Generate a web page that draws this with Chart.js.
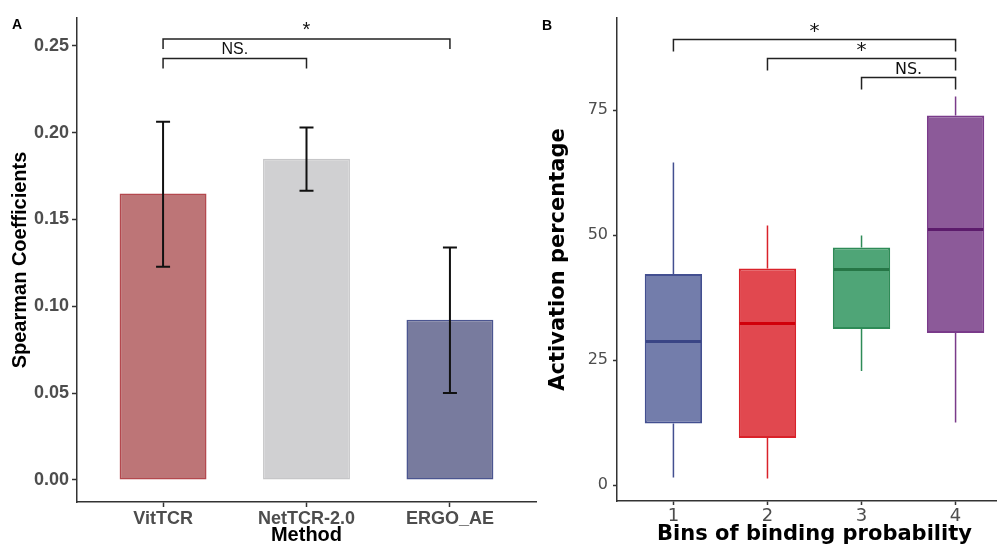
<!DOCTYPE html>
<html>
<head>
<meta charset="utf-8">
<script src="https://cdn.jsdelivr.net/npm/chart.js@4.4.1/dist/chart.umd.min.js"></script>
<style>
    html, body { margin: 0; padding: 0; background: #fff; }
    #wrap { position: relative; width: 997px; height: 545px; overflow: hidden; }
    .panel { position: absolute; top: 0; height: 545px; }
    #panelA { left: 0; width: 540px; }
    #panelB { left: 520px; width: 500px; }
    .tag { position: absolute; font: bold 14px "Liberation Sans", Arial, sans-serif; color: #000; line-height: 14px; }
</style>
</head>
<body>
<div id="wrap">
    <div class="panel" id="panelA"><canvas id="chartA"></canvas></div>
    <div class="panel" id="panelB"><canvas id="chartB"></canvas></div>
    <div class="tag" style="left:12px; top:17px">A</div>
    <div class="tag" style="left:542px; top:18px">B</div>
</div>
<script>
/* panel A : spearman coefficients per method */
const methods = ['VitTCR', 'NetTCR-2.0', 'ERGO_AE']
const spearman = [0.165, 0.185, 0.0923]
const spearmanLow = [0.1227, 0.1665, 0.050]
const spearmanHigh = [0.2063, 0.203, 0.1339]
const spearmanTicks = [0, 0.05, 0.10, 0.15, 0.20, 0.25]
const methodPairs = [[1, 3], [1, 2]]
const methodPairLabels = ['*', 'NS.']
const methodPairLevels = [0.2539, 0.2427]

/* panel B : activation percentage per bin */
const bins = ['1', '2', '3', '4']
const boxMin = [1.5, 1.3, 22.8, 12.5]
const boxQ1 = [12.3, 9.4, 31.2, 30.4]
const boxMedian = [28.7, 32.3, 43.1, 51.1]
const boxQ3 = [42.2, 43.3, 47.5, 73.9]
const boxMax = [64.5, 51.9, 49.9, 77.7]
const activationTicks = [0, 25, 50, 75]
const binPairs = [[1, 4], [2, 4], [3, 4]]
const binPairLabels = ['*', '*', 'NS.']
const binPairLevels = [89.1, 85.3, 81.5]

const ARIAL = '"Liberation Sans", Arial, sans-serif'
const DEJAVU = '"DejaVu Sans", sans-serif'

// significance brackets, drawn in data units through the scales
const bracketPlugin = (pairs, labels, levels, drop, family) => ({
    id: 'brackets',
    afterDraw(chart) {
        const { ctx, scales: { x, y } } = chart
        ctx.save()
        ctx.strokeStyle = '#222'
        ctx.lineWidth = 1.5
        ctx.fillStyle = '#111'
        ctx.textAlign = 'center'
        ctx.textBaseline = 'alphabetic'
        pairs.forEach((p, i) => {
            const x1 = x.getPixelForValue(p[0])
            const x2 = x.getPixelForValue(p[1])
            const yy = y.getPixelForValue(levels[i])
            ctx.beginPath()
            ctx.moveTo(x1, yy + drop)
            ctx.lineTo(x1, yy)
            ctx.lineTo(x2, yy)
            ctx.lineTo(x2, yy + drop)
            ctx.stroke()
            if (labels[i] === '*') {
                ctx.font = '20px ' + family
                ctx.fillText('*', (x1 + x2) / 2, yy - 3)
            } else {
                ctx.font = '16px ' + family
                ctx.fillText(labels[i], (x1 + x2) / 2, yy - 4)
            }
        })
        ctx.restore()
    }
})

const errorBarPlugin = {
    id: 'errorBars',
    afterDatasetsDraw(chart) {
        const { ctx, scales: { x, y } } = chart
        ctx.save()
        ctx.strokeStyle = '#111'
        ctx.lineWidth = 2
        methods.forEach((m, i) => {
            const px = x.getPixelForValue(i + 1)
            const top = y.getPixelForValue(spearmanHigh[i])
            const bottom = y.getPixelForValue(spearmanLow[i])
            ctx.beginPath()
            ctx.moveTo(px, top); ctx.lineTo(px, bottom)
            ctx.moveTo(px - 7, top); ctx.lineTo(px + 7, top)
            ctx.moveTo(px - 7, bottom); ctx.lineTo(px + 7, bottom)
            ctx.stroke()
        })
        ctx.restore()
    }
}

const boxColors = ['#737dab', '#e1484f', '#4fa577', '#8c5a99']
const boxBorders = ['#434f90', '#d9222a', '#2e8b57', '#7a3b8a']
const boxMedians = ['#3a4585', '#d1000a', '#267646', '#5c1b6c']

const whiskerPlugin = {
    id: 'whiskers',
    beforeDatasetsDraw(chart) {
        const { ctx, scales: { y } } = chart
        const bars = chart.getDatasetMeta(0).data
        ctx.save()
        ctx.lineWidth = 1.5
        bins.forEach((b, i) => {
            const px = bars[i].x
            ctx.strokeStyle = boxBorders[i]
            ctx.beginPath()
            ctx.moveTo(px, y.getPixelForValue(boxMax[i])); ctx.lineTo(px, y.getPixelForValue(boxQ3[i]))
            ctx.moveTo(px, y.getPixelForValue(boxQ1[i])); ctx.lineTo(px, y.getPixelForValue(boxMin[i]))
            ctx.stroke()
        })
        ctx.restore()
    },
    afterDatasetsDraw(chart) {
        const { ctx, scales: { y } } = chart
        const bars = chart.getDatasetMeta(0).data
        ctx.save()
        ctx.lineWidth = 3
        bins.forEach((b, i) => {
            const half = bars[i].width / 2 - 1
            const py = y.getPixelForValue(boxMedian[i])
            ctx.strokeStyle = boxMedians[i]
            ctx.beginPath()
            ctx.moveTo(bars[i].x - half, py); ctx.lineTo(bars[i].x + half, py)
            ctx.stroke()
        })
        ctx.restore()
    }
}

const axisGrid = (len) => ({ drawOnChartArea: false, offset: false, tickLength: len, color: '#333', tickWidth: 1.5 })
const axisBorder = { color: '#333', width: 1.5 }

new Chart(document.getElementById('chartA'), {
    type: 'bar',
    data: {
        datasets: [{
            data: methods.map((m, i) => ({ x: i + 1, y: spearman[i] })),
            backgroundColor: ['#bd7577', '#d0d0d2', '#787b9e'],
            borderColor: ['#b4484e', '#c6c6c8', '#4b5590'],
            borderWidth: 1.5,
            borderSkipped: false,
            categoryPercentage: 1,
            barPercentage: 0.606,
        }]
    },
    options: {
        responsive: true,
        maintainAspectRatio: false,
        animation: false,
        events: [],
        layout: { padding: { top: 18, right: 4, left: 0, bottom: 0 } },
        plugins: { legend: { display: false }, tooltip: { enabled: false } },
        scales: {
            x: {
                type: 'linear',
                offset: false,
                min: 0.4,
                max: 3.6,
                afterBuildTicks: s => { s.ticks = methods.map((m, i) => ({ value: i + 1 })) },
                afterFit: s => { s.height = 43 },
                ticks: {
                    callback: v => methods[v - 1],
                    color: '#4d4d4d',
                    font: { family: ARIAL, size: 18, weight: 'bold', lineHeight: 1 },
                    padding: 3,
                    maxRotation: 0,
                },
                grid: axisGrid(5),
                border: axisBorder,
                title: {
                    display: true, text: 'Method', color: '#000',
                    font: { family: ARIAL, size: 20, weight: 'bold', lineHeight: 1 },
                    padding: { top: 0, bottom: 0 }
                }
            },
            y: {
                min: -0.0127,
                max: 0.266,
                afterBuildTicks: s => { s.ticks = spearmanTicks.map(v => ({ value: v })) },
                afterFit: s => { s.width = 77 },
                ticks: {
                    callback: v => v.toFixed(2),
                    color: '#4d4d4d',
                    font: { family: ARIAL, size: 18, weight: 'bold', lineHeight: 1 },
                    padding: 3,
                },
                grid: axisGrid(5),
                border: axisBorder,
                title: {
                    display: true, text: 'Spearman Coefficients', color: '#000',
                    font: { family: ARIAL, size: 20, weight: 'bold', lineHeight: 1 },
                    padding: { top: 10, bottom: 0 }
                }
            }
        }
    },
    plugins: [errorBarPlugin, bracketPlugin(methodPairs, methodPairLabels, methodPairLevels, 10, ARIAL)]
})

new Chart(document.getElementById('chartB'), {
    type: 'bar',
    data: {
        datasets: [{
            data: bins.map((b, i) => ({ x: i + 1, y: [boxQ1[i], boxQ3[i]] })),
            backgroundColor: boxColors,
            borderColor: boxBorders,
            borderWidth: 2,
            borderSkipped: false,
            categoryPercentage: 1,
            barPercentage: 0.61,
        }]
    },
    options: {
        responsive: true,
        maintainAspectRatio: false,
        animation: false,
        events: [],
        layout: { padding: { top: 18, right: 8, left: 0, bottom: 0 } },
        plugins: { legend: { display: false }, tooltip: { enabled: false } },
        scales: {
            x: {
                type: 'linear',
                offset: false,
                min: 0.4,
                max: 4.6,
                afterBuildTicks: s => { s.ticks = bins.map((b, i) => ({ value: i + 1 })) },
                afterFit: s => { s.height = 44 },
                ticks: {
                    callback: v => bins[v - 1],
                    color: '#4d4d4d',
                    font: { family: DEJAVU, size: 18, lineHeight: 1 },
                    padding: 2,
                    maxRotation: 0,
                },
                grid: axisGrid(4),
                border: axisBorder,
                title: {
                    display: true, text: 'Bins of binding probability', color: '#000',
                    font: { family: DEJAVU, size: 21, weight: 'bold', lineHeight: 1 },
                    padding: { top: 0, bottom: 0 }
                }
            },
            y: {
                min: -3.2,
                max: 93.4,
                afterBuildTicks: s => { s.ticks = activationTicks.map(v => ({ value: v })) },
                afterFit: s => { s.width = 97 },
                ticks: {
                    color: '#4d4d4d',
                    font: { family: DEJAVU, size: 16, lineHeight: 1 },
                    padding: 5,
                },
                grid: axisGrid(4),
                border: axisBorder,
                title: {
                    display: true, text: 'Activation percentage', color: '#000',
                    font: { family: DEJAVU, size: 21, weight: 'bold', lineHeight: 1 },
                    padding: { top: 28, bottom: 0 }
                }
            }
        }
    },
    plugins: [whiskerPlugin, bracketPlugin(binPairs, binPairLabels, binPairLevels, 12, DEJAVU)]
})
</script>
</body>
</html>
